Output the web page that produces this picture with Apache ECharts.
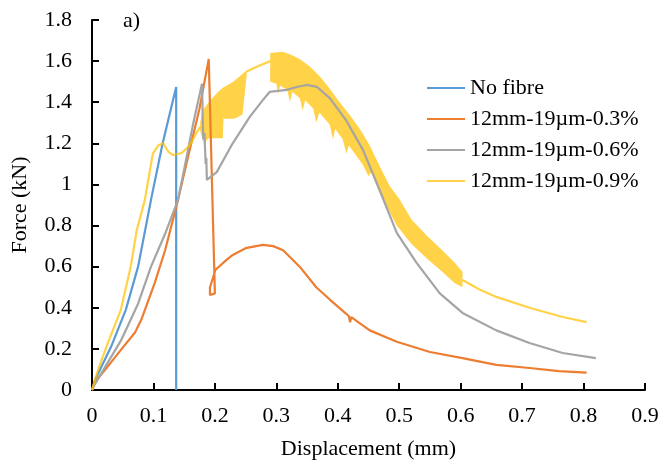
<!DOCTYPE html>
<html>
<head>
<meta charset="utf-8">
<script src="https://cdn.jsdelivr.net/npm/echarts@6/dist/echarts.min.js"></script>
<style>
html,body{margin:0;padding:0;background:#fff;}
#chart{width:661px;height:460px;}
</style>
</head>
<body>
<div id="chart"></div>
<script>
// ---- data (displacement mm, force kN) ----
var seriesNames = ['No fibre', '12mm-19µm-0.3%', '12mm-19µm-0.6%', '12mm-19µm-0.9%'];
var xTicks = [0, 0.1, 0.2, 0.3, 0.4, 0.5, 0.6, 0.7, 0.8, 0.9];
var yTicks = [0, 0.2, 0.4, 0.6, 0.8, 1, 1.2, 1.4, 1.6, 1.8];

var noFibre = [[0,0],[0.005,0.05],[0.01,0.08],[0.031,0.21],[0.055,0.39],[0.075,0.6],[0.096,0.925],[0.115,1.2],[0.127,1.35],[0.137,1.474],[0.137,0]];

var fibre03 = [[0,0],[0.005,0.04],[0.021,0.097],[0.047,0.195],[0.07,0.28],[0.08,0.34],[0.102,0.52],[0.119,0.68],[0.14,0.925],[0.156,1.13],[0.175,1.37],[0.19,1.61],[0.2,0.47],[0.192,0.462],[0.192,0.5],[0.201,0.585],[0.219,0.633],[0.229,0.657],[0.25,0.69],[0.278,0.706],[0.295,0.70],[0.311,0.68],[0.338,0.60],[0.365,0.50],[0.387,0.44],[0.41,0.38],[0.418,0.36],[0.42,0.33],[0.422,0.355],[0.452,0.29],[0.496,0.235],[0.55,0.185],[0.603,0.155],[0.658,0.122],[0.712,0.107],[0.76,0.092],[0.805,0.085]];

var fibre06 = [[0,0],[0.005,0.03],[0.021,0.11],[0.047,0.24],[0.075,0.42],[0.096,0.6],[0.119,0.76],[0.14,0.925],[0.154,1.134],[0.165,1.30],[0.179,1.49],[0.181,1.22],[0.183,1.25],[0.185,1.10],[0.186,1.13],[0.187,1.022],[0.203,1.06],[0.229,1.2],[0.257,1.33],[0.278,1.41],[0.289,1.45],[0.317,1.46],[0.333,1.474],[0.349,1.484],[0.366,1.475],[0.387,1.42],[0.414,1.31],[0.441,1.168],[0.468,0.973],[0.496,0.764],[0.528,0.62],[0.566,0.47],[0.603,0.375],[0.658,0.29],[0.712,0.229],[0.766,0.18],[0.82,0.155]];

// thin parts of the 0.9% curve ('-' = gap where the noisy band is drawn)
var fibre09 = [[0,0],[0.005,0.05],[0.01,0.1],[0.026,0.23],[0.047,0.39],[0.063,0.6],[0.073,0.78],[0.086,0.925],[0.099,1.15],[0.108,1.19],[0.116,1.2],[0.124,1.16],[0.132,1.143],[0.146,1.153],[0.159,1.19],[0.17,1.25],[0.176,1.28],[0.21,'-'],[0.252,1.55],[0.27,1.575],[0.29,1.60],[0.45,'-'],[0.603,0.535],[0.63,0.49],[0.658,0.453],[0.712,0.40],[0.766,0.355],[0.805,0.33]];

// noisy band envelopes of the 0.9% curve
var band1Upper = [[0.176,1.30],[0.18,1.36],[0.19,1.40],[0.205,1.45],[0.213,1.47],[0.23,1.50],[0.252,1.555]];
var band1Lower = [[0.176,1.26],[0.182,1.20],[0.19,1.225],[0.213,1.225],[0.214,1.32],[0.232,1.32],[0.245,1.34],[0.252,1.54]];
var band2Upper = [[0.29,1.64],[0.31,1.645],[0.325,1.63],[0.338,1.61],[0.354,1.575],[0.371,1.525],[0.387,1.465],[0.403,1.40],[0.42,1.335],[0.436,1.27],[0.452,1.19],[0.468,1.09],[0.485,0.99],[0.5,0.93],[0.52,0.83],[0.545,0.75],[0.57,0.68],[0.59,0.62],[0.603,0.575]];
var band2Lower = [[0.29,1.50],[0.30,1.49],[0.303,1.44],[0.306,1.48],[0.318,1.46],[0.322,1.40],[0.326,1.45],[0.338,1.42],[0.343,1.36],[0.347,1.41],[0.36,1.37],[0.365,1.30],[0.37,1.35],[0.387,1.29],[0.392,1.22],[0.396,1.27],[0.408,1.22],[0.414,1.15],[0.418,1.19],[0.44,1.10],[0.45,1.04],[0.455,1.06],[0.468,0.96],[0.496,0.80],[0.52,0.71],[0.545,0.64],[0.57,0.575],[0.59,0.52],[0.603,0.50]];

var colors = ['#5B9BD5', '#ED7D31', '#A5A5A5', '#FFC000'];
var FONT = 'Liberation Serif';

var chart = echarts.init(document.getElementById('chart'));

function bandRender(upper, lower) {
  return function (params, api) {
    var pts = [];
    upper.forEach(function (p) { pts.push(api.coord(p)); });
    for (var i = lower.length - 1; i >= 0; i--) pts.push(api.coord(lower[i]));
    return {
      type: 'polygon',
      shape: { points: pts },
      style: { fill: colors[3], opacity: 0.72, stroke: null }
    };
  };
}

function lineSeries(name, data, color, opacity) {
  return {
    name: name, type: 'line', data: data, symbol: 'none', smooth: false,
    connectNulls: false, animation: false,
    lineStyle: { color: color, width: 2.2, opacity: opacity },
    itemStyle: { color: color, opacity: opacity }
  };
}

var legendData = seriesNames.map(function (n, i) {
  return { name: n, icon: 'rect', itemStyle: { color: colors[i], opacity: i === 3 ? 0.72 : 1 } };
});

chart.setOption({
  animation: false,
  backgroundColor: '#fff',
  textStyle: { fontFamily: FONT },
  grid: { left: 92, right: 16, top: 20, bottom: 70, containLabel: false, outerBoundsMode: 'none' },
  graphic: [{
    type: 'text', left: 123, top: 10,
    style: { text: 'a)', fontSize: 22, fontFamily: FONT, fill: '#000' }
  }],
  legend: {
    orient: 'vertical', left: 427, top: 77, padding: 0,
    itemWidth: 38, itemHeight: 2, itemGap: 9,
    textStyle: { fontSize: 22, fontFamily: FONT, color: '#000', lineHeight: 22 },
    data: legendData
  },
  xAxis: {
    type: 'value', min: xTicks[0], max: xTicks[xTicks.length - 1], interval: 0.1,
    name: 'Displacement (mm)', nameLocation: 'middle', nameGap: 48,
    nameTextStyle: { fontSize: 22, fontFamily: FONT, color: '#000' },
    axisLine: { show: true, onZero: false, lineStyle: { color: '#000', width: 2 } },
    axisTick: { show: true, inside: true, length: 7, lineStyle: { color: '#000', width: 2 } },
    axisLabel: { fontSize: 22, fontFamily: FONT, color: '#000', margin: 15 },
    splitLine: { show: false }
  },
  yAxis: {
    type: 'value', min: yTicks[0], max: yTicks[yTicks.length - 1], interval: 0.2,
    name: 'Force (kN)', nameLocation: 'middle', nameGap: 61,
    nameTextStyle: { fontSize: 22, fontFamily: FONT, color: '#000' },
    axisLine: { show: true, onZero: false, lineStyle: { color: '#000', width: 2 } },
    axisTick: { show: true, inside: true, length: 7, lineStyle: { color: '#000', width: 2 } },
    axisLabel: { fontSize: 22, fontFamily: FONT, color: '#000', margin: 20 },
    splitLine: { show: false }
  },
  series: [
    lineSeries(seriesNames[0], noFibre, colors[0], 1),
    lineSeries(seriesNames[1], fibre03, colors[1], 1),
    lineSeries(seriesNames[2], fibre06, colors[2], 1),
    lineSeries(seriesNames[3], fibre09, colors[3], 0.72),
    { type: 'custom', name: 'band1', data: [[0, 0]], renderItem: bandRender(band1Upper, band1Lower), silent: true, animation: false, z: 3 },
    { type: 'custom', name: 'band2', data: [[0, 0]], renderItem: bandRender(band2Upper, band2Lower), silent: true, animation: false, z: 3 }
  ]
});
</script>
</body>
</html>
